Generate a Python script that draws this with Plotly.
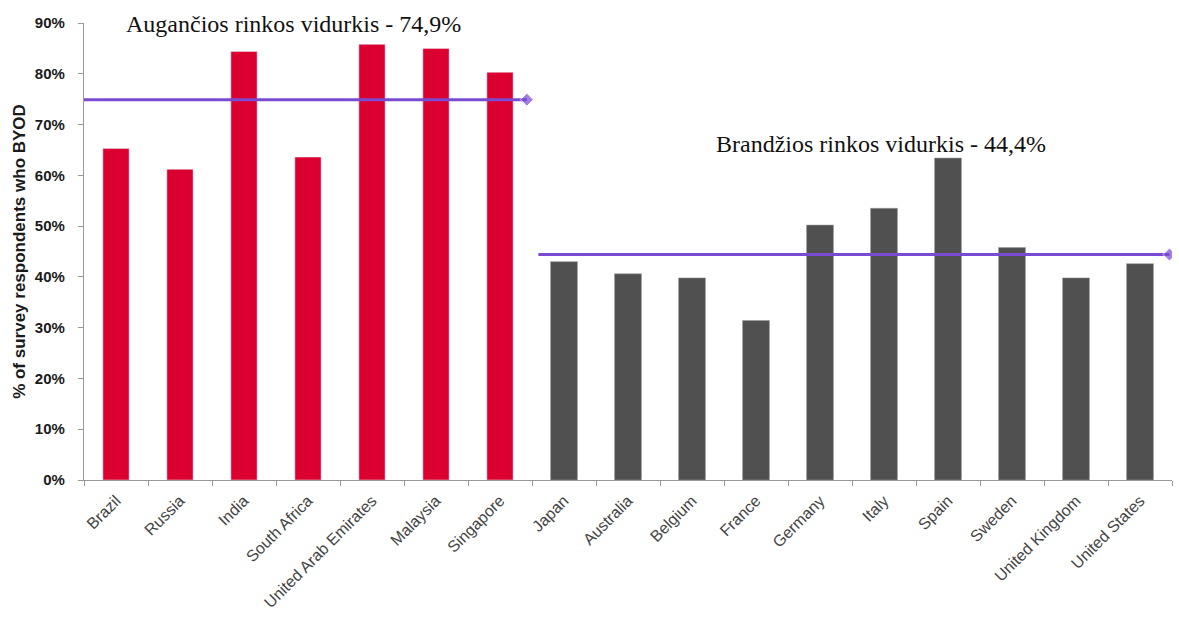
import plotly.graph_objects as go

emerging = ["Brazil", "Russia", "India", "South Africa", "United Arab Emirates", "Malaysia", "Singapore"]
emerging_vals = [65.3, 61.2, 84.4, 63.6, 85.8, 85.0, 80.3]
mature = ["Japan", "Australia", "Belgium", "France", "Germany", "Italy", "Spain", "Sweden",
          "United Kingdom", "United States"]
mature_vals = [43.0, 40.6, 39.8, 31.4, 50.2, 53.5, 63.4, 45.8, 39.8, 42.6]
emerging_avg = 74.9
mature_avg = 44.4
y_ticks = [0, 10, 20, 30, 40, 50, 60, 70, 80, 90]

categories = emerging + mature
n_em = len(emerging)
n_all = len(categories)

fig = go.Figure()
fig.add_trace(go.Bar(x=emerging, y=emerging_vals, marker_color="#DC0030", width=0.41,
                     showlegend=False))
fig.add_trace(go.Bar(x=mature, y=mature_vals, marker_color="#505050", width=0.42,
                     marker_line=dict(color="#9a9a9a", width=0.6), showlegend=False))

line_color = "#7B4AD3"
# Average lines on an overlaid numeric axis aligned with category indices
fig.add_trace(go.Scatter(x=[-0.5, n_em - 1 + 0.42], y=[emerging_avg, emerging_avg],
                         xaxis="x2", mode="lines+markers", line=dict(color=line_color, width=3),
                         marker=dict(symbol="diamond", size=[0, 10], color=line_color),
                         showlegend=False))
fig.add_trace(go.Scatter(x=[n_em - 0.4, n_all - 1 + 0.46], y=[mature_avg, mature_avg],
                         xaxis="x2", mode="lines+markers", line=dict(color=line_color, width=3),
                         marker=dict(symbol="diamond", size=[0, 10], color=line_color),
                         showlegend=False))

fig.add_annotation(xref="x2", yref="y", x=2.77, y=89.8, yanchor="middle", showarrow=False,
                   text="Augančios rinkos vidurkis - 74,9%",
                   font=dict(family="Liberation Serif", size=24, color="#111"))
fig.add_annotation(xref="x2", yref="y", x=11.96, y=66.2, yanchor="middle", showarrow=False,
                   text="Brandžios rinkos vidurkis - 44,4%",
                   font=dict(family="Liberation Serif", size=24, color="#111"))

fig.update_layout(
    width=1179, height=627,
    margin=dict(l=84, r=7, t=23, b=147),
    plot_bgcolor="white", paper_bgcolor="white",
    bargap=0.58,
    xaxis=dict(type="category", categoryorder="array", categoryarray=categories,
               range=[-0.5, n_all - 0.5], tickson="boundaries", ticks="outside", ticklen=5,
               tickcolor="#999", showline=True, linecolor="#999", linewidth=1.3,
               tickangle=-45, automargin=False, ticklabelstandoff=4,
               tickfont=dict(family="Liberation Sans", size=16, color="#444"),
               showgrid=False),
    xaxis2=dict(overlaying="x", range=[-0.5, n_all - 0.5], visible=False),
    yaxis=dict(range=[0, 90], tickvals=y_ticks, ticktext=[f"{v}%" for v in y_ticks],
               ticks="outside", ticklen=5, tickcolor="#999", showline=True, linecolor="#999",
               linewidth=1.3, showgrid=False, zeroline=False, automargin=False,
               ticklabelstandoff=10,
               tickfont=dict(family="Liberation Sans", size=15, color="#1a1a1a", weight="bold"),
               title=dict(text="<b>% of survey respondents who BYOD</b>", standoff=4,
                          font=dict(family="Liberation Sans", size=17, color="#1a1a1a"))),
)

fig.write_html("out.html")
